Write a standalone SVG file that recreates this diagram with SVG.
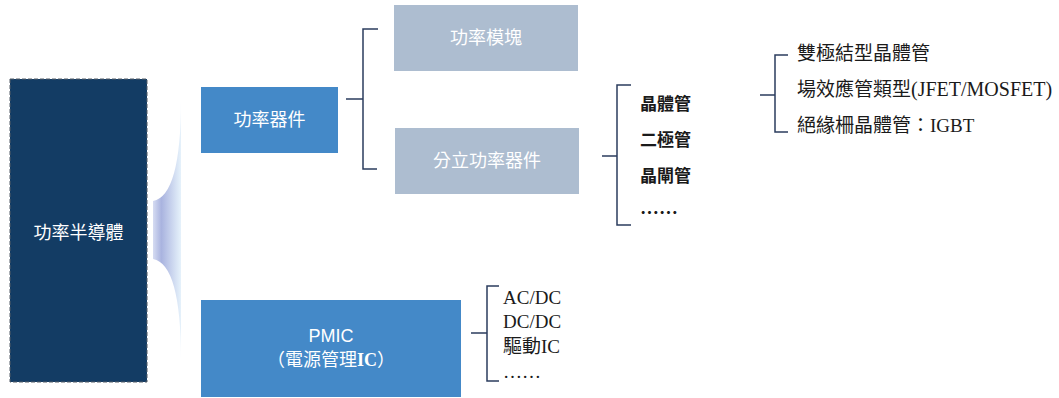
<svg xmlns="http://www.w3.org/2000/svg" width="1059" height="398" viewBox="0 0 1059 398">
<defs>
<linearGradient id="fan" x1="153" y1="0" x2="181" y2="0" gradientUnits="userSpaceOnUse">
<stop offset="0" stop-color="#d6dcf2"/>
<stop offset="0.3" stop-color="#a9b3df"/>
<stop offset="1" stop-color="#e6f2fb"/>
</linearGradient>
</defs>
<style>
.wt{fill:#ffffff;font-family:"Noto Sans CJK TC","Noto Sans",sans-serif;font-size:18px;text-anchor:middle}
.bd{fill:#1a1a1a;font-family:"Noto Sans CJK TC",sans-serif;font-size:17px;font-weight:bold}
.sf{fill:#1a1a1a;font-family:"Liberation Serif","Noto Sans CJK TC",serif;font-size:19px}
.br{fill:none;stroke:#2b3d5e;stroke-width:1.5}
</style>
<rect width="1059" height="398" fill="#ffffff"/>
<g id="root">
<rect x="10" y="79" width="137" height="303" fill="#133c64" stroke="#555c66" stroke-width="1" stroke-dasharray="4 2"/>
<text class="wt" x="78.5" y="239">功率半導體</text>
</g>
<g id="fan-shape">
<path d="M181,100 Q181,196 153,201 L153,259 Q181,264 181,360 Z" fill="url(#fan)"/>
</g>
<g id="power-device">
<rect x="201" y="87" width="137" height="66" fill="#4489c8"/>
<text class="wt" x="269.5" y="126">功率器件</text>
</g>
<g id="power-module">
<rect x="394" y="5" width="184" height="66" fill="#adbdd0"/>
<text class="wt" x="486" y="44">功率模塊</text>
</g>
<g id="discrete">
<rect x="395" y="128" width="184" height="66" fill="#adbdd0"/>
<text class="wt" x="487" y="167">分立功率器件</text>
</g>
<g id="pmic">
<rect x="201" y="300" width="260" height="97" fill="#4489c8"/>
<text class="wt" x="331" y="342" style="font-family:'Liberation Sans',sans-serif">PMIC</text>
<text class="wt" x="331" y="366">（電源管理<tspan style="font-family:'Liberation Serif',serif;font-weight:bold">IC</tspan>）</text>
</g>
<g id="discrete-list">
<text class="bd" x="640" y="110">晶體管</text>
<text class="bd" x="640" y="146">二極管</text>
<text class="bd" x="640" y="182">晶閘管</text>
<text class="bd" x="640" y="220" style="font-size:19px">……</text>
</g>
<g id="transistor-list">
<text class="sf" x="797" y="60">雙極結型晶體管</text>
<text class="sf" x="797" y="96">場效應管類型<tspan style="font-size:20px">(JFET/MOSFET)</tspan></text>
<text class="sf" x="797" y="132">絕緣柵晶體管：IGBT</text>
</g>
<g id="pmic-list">
<text class="sf" x="503" y="304">AC/DC</text>
<text class="sf" x="503" y="328">DC/DC</text>
<text class="sf" x="503" y="353">驅動IC</text>
<text class="sf" x="503" y="378">……</text>
</g>
<g id="connectors">
<path class="br" d="M346,99 H363 M378,29 H363 V169 H377"/>
<path class="br" d="M602,156 H617 M631,85 H617 V225 H631"/>
<path class="br" d="M760,95 H775 M788,55 H775 V132 H788"/>
<path class="br" d="M471,333 H487 M499,286 H487 V381 H499"/>
</g>
</svg>
